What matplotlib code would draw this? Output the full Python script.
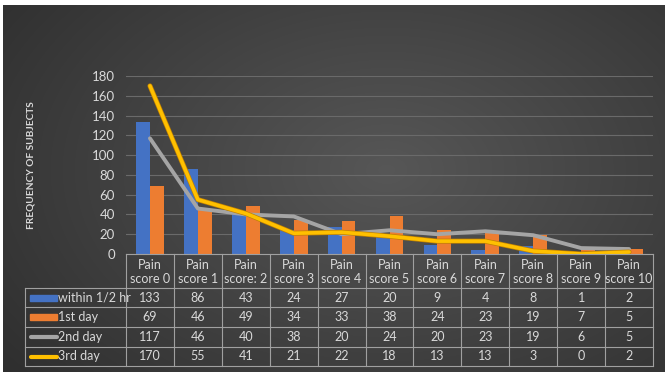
import numpy as np
import matplotlib
matplotlib.use('Agg')
import matplotlib.pyplot as plt
from matplotlib.lines import Line2D
from matplotlib.patches import Rectangle

categories = ['Pain\nscore 0', 'Pain\nscore 1', 'Pain\nscore: 2', 'Pain\nscore 3', 'Pain\nscore 4',
              'Pain\nscore 5', 'Pain\nscore 6', 'Pain\nscore 7', 'Pain\nscore 8', 'Pain\nscore 9',
              'Pain\nscore 10']
within_half_hr = [133, 86, 43, 24, 27, 20, 9, 4, 8, 1, 2]
first_day = [69, 46, 49, 34, 33, 38, 24, 23, 19, 7, 5]
second_day = [117, 46, 40, 38, 20, 24, 20, 23, 19, 6, 5]
third_day = [170, 55, 41, 21, 22, 18, 13, 13, 3, 0, 2]
series_names = ['within 1/2 hr', '1st day', '2nd day', '3rd day']

BLUE = '#4472C4'
ORANGE = '#ED7D31'
GREY = '#A5A5A5'
YELLOW = '#FFC000'
TXT = '#D9D9D9'
TBL = '#A0A0A0'
FS = 9

plt.rcParams['font.family'] = ['Lato', 'DejaVu Sans']

W, H = 669, 377
fig = plt.figure(figsize=(W / 100, H / 100), dpi=100)
fig.patch.set_facecolor('white')

def fx(x):
    return x / W

def fy(y):
    return 1 - y / H

# background with radial gradient
bg = fig.add_axes([fx(3), fy(372), fx(662), 367 / H])
yy, xx = np.mgrid[0:1:200j, 0:1:350j]
r = np.sqrt(((xx - 0.58) / 0.75) ** 2 + ((yy - 0.45) / 0.9) ** 2)
shade = np.clip(0.34 - 0.16 * r, 0.17, 0.34)
bg.imshow(np.dstack([shade] * 3), aspect='auto', extent=[0, 1, 0, 1], interpolation='bilinear')
bg.set_axis_off()

# plot area
left, right = 126, 653
top, bottom = 76, 254
ax = fig.add_axes([fx(left), fy(bottom), fx(right - left), (bottom - top) / H])
ax.patch.set_alpha(0)
x = np.arange(len(categories))
bw = 0.29
ax.bar(x - bw / 2, within_half_hr, bw, color=BLUE, zorder=2)
ax.bar(x + bw / 2, first_day, bw, color=ORANGE, zorder=2)
ax.plot(x, second_day, color=GREY, lw=2.8, solid_joinstyle='round', solid_capstyle='round', zorder=3)
ax.plot(x, third_day, color='#C08000', lw=3.6, solid_joinstyle='round', solid_capstyle='round', zorder=4)
ax.plot(x, third_day, color=YELLOW, lw=2.6, solid_joinstyle='round', solid_capstyle='round', zorder=5)
ax.set_xlim(-0.5, len(categories) - 0.5)
ax.set_ylim(0, 180)
ax.set_yticks(np.arange(0, 181, 20))
ax.yaxis.grid(True, color='#6A6A6A', lw=0.8)
ax.set_axisbelow(True)
ax.set_xticks([])
ax.tick_params(axis='y', length=0, pad=8, labelsize=FS + 0.5, labelcolor=TXT)
for s in ax.spines.values():
    s.set_visible(False)

fig.text(fx(31), fy(165), 'FREQUENCY OF SUBJECTS', rotation=90, ha='center', va='center',
         fontsize=7.3, fontweight='bold', color=TXT)

# data table
col_w = (right - left) / len(categories)
row_y = [254, 288, 307, 327, 347, 366]
leg_left = 25
lk = dict(color=TBL, lw=0.8)
fig.add_artist(Line2D([fx(left), fx(right)], [fy(row_y[0])] * 2, transform=fig.transFigure, **lk))
for yv in row_y[1:]:
    fig.add_artist(Line2D([fx(leg_left), fx(right)], [fy(yv)] * 2, transform=fig.transFigure, **lk))
fig.add_artist(Line2D([fx(leg_left)] * 2, [fy(row_y[1]), fy(row_y[-1])], transform=fig.transFigure, **lk))
for k in range(len(categories) + 1):
    xv = left + k * col_w
    fig.add_artist(Line2D([fx(xv)] * 2, [fy(row_y[0]), fy(row_y[-1])], transform=fig.transFigure, **lk))

for k, lab in enumerate(categories):
    fig.text(fx(left + (k + 0.5) * col_w), fy((row_y[0] + row_y[1]) / 2 + 1), lab,
             ha='center', va='center', fontsize=FS, color=TXT, linespacing=1.2)

rows = [within_half_hr, first_day, second_day, third_day]
for r_i, (name, vals) in enumerate(zip(series_names, rows)):
    yc = (row_y[r_i + 1] + row_y[r_i + 2]) / 2
    if r_i < 2:
        fig.add_artist(Rectangle((fx(30), fy(yc + 3)), fx(27), 6 / H,
                                 color=[BLUE, ORANGE][r_i], transform=fig.transFigure))
    else:
        fig.add_artist(Line2D([fx(31), fx(57)], [fy(yc)] * 2, color=[GREY, YELLOW][r_i - 2],
                              lw=3, solid_capstyle='round', transform=fig.transFigure))
    fig.text(fx(58), fy(yc), name, ha='left', va='center', fontsize=FS, color=TXT)
    for k, v in enumerate(vals):
        fig.text(fx(left + (k + 0.5) * col_w), fy(yc), str(v), ha='center', va='center',
                 fontsize=FS, color=TXT)

fig.savefig('out.png', dpi=100, facecolor='white')
